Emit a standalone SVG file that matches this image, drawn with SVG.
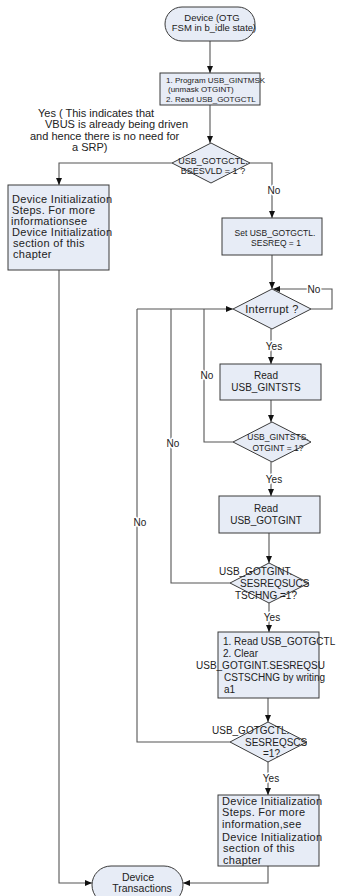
<svg xmlns="http://www.w3.org/2000/svg" width="337" height="896" viewBox="0 0 337 896">
<defs>
<marker id="ah" markerUnits="userSpaceOnUse" markerWidth="7" markerHeight="6" refX="7" refY="3" orient="auto">
<path d="M0,0 L7,3 L0,6 z" fill="#111"/>
</marker>
<style>
.n{fill:#e7ecf6;stroke:#3a3a3a;stroke-width:1}
.c{fill:none;stroke:#555;stroke-width:1.1}
.a{marker-end:url(#ah)}
text{font-family:"Liberation Sans",Arial,sans-serif;fill:#222}
.lb{font-size:10px;text-anchor:middle;paint-order:stroke;stroke:#fff;stroke-width:3px;stroke-linejoin:round}
.m{text-anchor:middle}
</style>
</defs>
<rect width="337" height="896" fill="#fff"/>
<g id="connectors">
<path class="c a" d="M210,41 V73"/>
<path class="c a" d="M210,105 V143"/>
<path class="c a" d="M172,163 H59 V185"/>
<path class="c a" d="M250,163 H272 V218"/>
<path class="c a" d="M272,255 V289"/>
<path class="c a" d="M311,309 H332 V289 H273"/>
<path class="c a" d="M271,329 V364"/>
<path class="c a" d="M271,400 V422"/>
<path class="c a" d="M271,462 V496"/>
<path class="c" d="M233,442 H204 V309"/>
<path class="c a" d="M269,533 V563"/>
<path class="c a" d="M269,603 V632"/>
<path class="c" d="M230,583 H171 V309"/>
<path class="c a" d="M268,698 V722"/>
<path class="c a" d="M268,762 V795"/>
<path class="c" d="M230,742 H137 V309"/>
<path class="c a" d="M137,309 H233"/>
<path class="c a" d="M59,270 V883 H92"/>
<path class="c a" d="M268,866 V883 H183"/>
<text class="lb" x="274" y="194">No</text>
<text class="lb" x="314" y="293">No</text>
<text class="lb" x="207" y="379">No</text>
<text class="lb" x="173" y="447">No</text>
<text class="lb" x="140" y="526">No</text>
<text class="lb" x="274" y="350">Yes</text>
<text class="lb" x="274" y="483">Yes</text>
<text class="lb" x="272" y="621">Yes</text>
<text class="lb" x="271" y="782">Yes</text>
<g font-size="11px">
<text x="38" y="117">Yes ( This indicates that</text>
<text x="45" y="128">VBUS is already being driven</text>
<text x="30" y="140">and hence there is no need for</text>
<text x="72" y="151">a SRP)</text>
</g>
</g>
<g id="start">
<rect class="n" x="165" y="7" width="90" height="34" rx="17"/>
<text class="m" x="212" y="21" font-size="9.5px">Device (OTG</text>
<text class="m" x="214" y="31" font-size="9.5px">FSM in b_idle state)</text>
</g>
<g id="box1">
<rect class="n" x="160" y="73" width="100" height="32"/>
<text x="166" y="83" font-size="8px">1. Program USB_GINTMSK</text>
<text x="168" y="92" font-size="8px">(unmask OTGINT)</text>
<text x="166" y="102" font-size="8px">2. Read USB_GOTGCTL</text>
</g>
<g id="dec1">
<path class="n" d="M211,143 L250,163 L211,183 L172,163 z"/>
<text class="m" x="213" y="164" font-size="9px">USB_GOTGCTL.</text>
<text class="m" x="213" y="174" font-size="9px">BSESVLD = 1 ?</text>
</g>
<g id="initLeft">
<rect class="n" x="8" y="185" width="101" height="85"/>
<g font-size="11px" letter-spacing="0.3">
<text x="12" y="203">Device Initialization</text>
<text x="12" y="214">Steps.  For more</text>
<text x="11" y="225">informationsee</text>
<text x="12" y="236">Device Initialization</text>
<text x="13" y="247">section of this</text>
<text x="13" y="258">chapter</text>
</g>
</g>
<g id="setReq">
<rect class="n" x="222" y="218" width="100" height="37"/>
<text class="m" x="275" y="236" font-size="8.5px">Set USB_GOTGCTL.</text>
<text class="m" x="276" y="246" font-size="8.5px">SESREQ = 1</text>
</g>
<g id="interrupt">
<path class="n" d="M272,289 L311,309 L272,329 L233,309 z"/>
<text class="m" x="272" y="313" font-size="11px" letter-spacing="0.3">Interrupt ?</text>
</g>
<g id="readGintsts">
<rect class="n" x="220" y="364" width="101" height="36"/>
<text class="m" x="266" y="378.5" font-size="10px">Read</text>
<text class="m" x="266" y="390.5" font-size="10px">USB_GINTSTS</text>
</g>
<g id="decOtgint">
<path class="n" d="M272,422 L311,442 L272,462 L233,442 z"/>
<text class="m" x="278" y="440" font-size="8.5px">USB_GINTSTS.</text>
<text class="m" x="278" y="451" font-size="8.5px">OTGINT = 1?</text>
</g>
<g id="readGotgint">
<rect class="n" x="219" y="496" width="101" height="37"/>
<text class="m" x="266" y="511.5" font-size="10px">Read</text>
<text class="m" x="266" y="523.5" font-size="10px">USB_GOTGINT</text>
</g>
<g id="decSucs">
<path class="n" d="M269,563 L309,583 L269,603 L230,583 z"/>
<text x="219" y="574.5" font-size="10px">USB_GOTGINT.</text>
<text x="240" y="586.5" font-size="10px">SESREQSUCS</text>
<text x="235" y="598.5" font-size="10px">TSCHNG =1?</text>
</g>
<g id="clearBox">
<rect class="n" x="218" y="632" width="101" height="66"/>
<g font-size="10px">
<text x="223" y="644.5">1. Read USB_GOTGCTL</text>
<text x="223" y="656.5">2. Clear</text>
<text x="196" y="668.5">USB_GOTGINT.SESREQSU</text>
<text x="224" y="680.5">CSTSCHNG by writing</text>
<text x="224" y="692.5">a1</text>
</g>
</g>
<g id="decScs">
<path class="n" d="M268,722 L307,742 L268,762 L230,742 z"/>
<text x="212" y="734" font-size="10px">USB_GOTGCTL.</text>
<text x="245" y="745.5" font-size="10px">SESREQSCS</text>
<text x="263" y="757" font-size="10px">=1?</text>
</g>
<g id="initRight">
<rect class="n" x="218" y="795" width="101" height="71"/>
<g font-size="11px" letter-spacing="0.3">
<text x="222" y="805">Device Initialization</text>
<text x="222" y="816">Steps.  For more</text>
<text x="222" y="828">information,see</text>
<text x="222" y="841">Device Initialization</text>
<text x="223" y="852">section of this</text>
<text x="223" y="864">chapter</text>
</g>
</g>
<g id="end">
<rect class="n" x="92" y="866" width="91" height="38" rx="19"/>
<text class="m" x="138" y="880.5" font-size="10.5px">Device</text>
<text class="m" x="142" y="891.5" font-size="10.5px">Transactions</text>
</g>
</svg>
